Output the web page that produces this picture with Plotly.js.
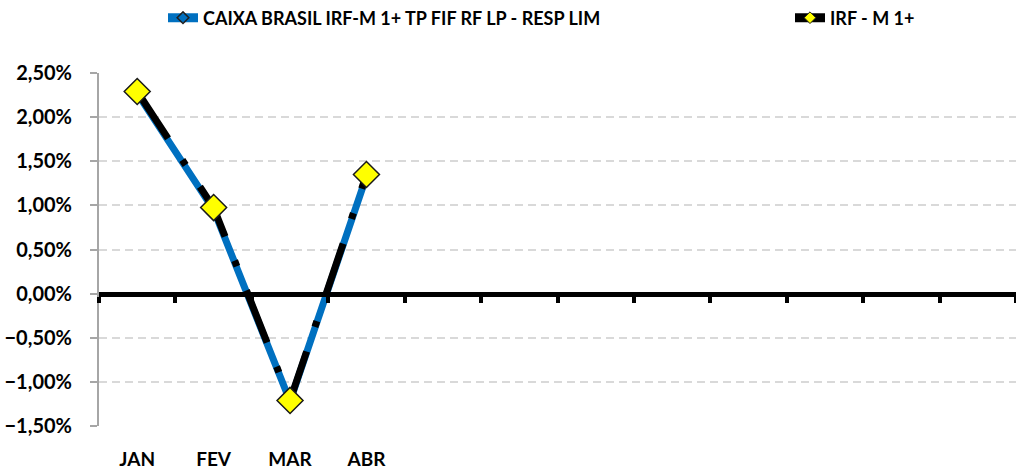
<!DOCTYPE html>
<html>
<head>
<meta charset="utf-8">
<script src="https://cdn.plot.ly/plotly-3.0.1.min.js"></script>
<style>html,body{margin:0;padding:0;background:#fff;}#chart{width:1016px;height:471px;}</style>
</head>
<body>
<div id="chart"></div>
<script>
const months = ['JAN','FEV','MAR','ABR','MAI','JUN','JUL','AGO','SET','OUT','NOV','DEZ'];
const monthLabels = ['JAN','FEV','MAR','ABR','','','','','','','',''];
const fundName = 'CAIXA BRASIL IRF-M 1+ TP FIF RF LP - RESP LIM';
const indexName = 'IRF - M 1+';
const fundValues = [0.0227, 0.0095, -0.0122, 0.0133];
const indexValues = [0.0229, 0.00975, -0.0121, 0.0135];

const font = 'Lato, "Open Sans", sans-serif';
const blue = '#0070c0';
const indexDash = '56px,26px,6px,26px';

const traces = [
  {
    x: months.slice(0, fundValues.length), y: fundValues, name: fundName,
    type: 'scatter', mode: 'lines+markers', showlegend: false,
    line: {color: blue, width: 7},
    marker: {symbol: 'diamond-open', size: 9, color: '#1f1f1f', line: {width: 1.5, color: '#1f1f1f'}},
    xaxis: 'x', yaxis: 'y'
  },
  {
    x: months.slice(0, indexValues.length), y: indexValues, name: indexName,
    type: 'scatter', mode: 'lines+markers', showlegend: false,
    line: {color: '#000000', width: 7, dash: indexDash},
    marker: {symbol: 'diamond', size: 20, color: '#ffff00', line: {width: 1.5, color: '#1a1a1a'}},
    xaxis: 'x', yaxis: 'y'
  },
  // legend entries
  {
    x: [null], y: [null], name: fundName, type: 'scatter', mode: 'lines+markers',
    legend: 'legend',
    line: {color: blue, width: 9},
    marker: {symbol: 'diamond-open', size: 9, color: '#1f1f1f', line: {width: 1.5, color: '#1f1f1f'}},
    xaxis: 'x', yaxis: 'y'
  },
  {
    x: [null], y: [null], name: indexName, type: 'scatter', mode: 'lines+markers',
    legend: 'legend2',
    line: {color: '#000000', width: 9},
    marker: {symbol: 'diamond', size: 9, color: '#ffff00', line: {width: 1, color: '#1a1a1a'}},
    xaxis: 'x', yaxis: 'y'
  },
  {
    x: months, y: months.map(() => null), showlegend: false, hoverinfo: 'skip',
    type: 'scatter', mode: 'lines', xaxis: 'x2', yaxis: 'y'
  }
];

const legendFont = {family: font, size: 18, color: '#000', weight: 'bold'};

const layout = {
  width: 1016, height: 471,
  margin: {l: 99, r: 0, t: 73, b: 45, autoexpand: false},
  paper_bgcolor: '#ffffff', plot_bgcolor: '#ffffff',
  separators: ',.',
  font: {family: font, color: '#000'},
  showlegend: true,
  legend: {
    orientation: 'h', xref: 'container', yref: 'container',
    x: 163 / 1016, xanchor: 'left', y: 1 - 18 / 471, yanchor: 'middle',
    font: legendFont
  },
  legend2: {
    orientation: 'h', xref: 'container', yref: 'container',
    x: 790 / 1016, xanchor: 'left', y: 1 - 18 / 471, yanchor: 'middle',
    font: legendFont
  },
  xaxis: {
    type: 'category', categoryorder: 'array', categoryarray: months,
    range: [-0.5, 11.5],
    tickmode: 'array', tickvals: months, ticktext: monthLabels,
    showgrid: false, zeroline: false, showline: false,
    ticks: 'outside', ticklen: 16, tickcolor: 'rgba(0,0,0,0)',
    tickfont: {family: font, size: 19, color: '#000', weight: 'bold'},
    fixedrange: true
  },
  xaxis2: {
    type: 'category', categoryorder: 'array', categoryarray: months,
    range: [-0.5, 11.5], overlaying: 'x', anchor: 'free', position: 0.375,
    showgrid: false, zeroline: false, showticklabels: false,
    showline: true, linecolor: '#000', linewidth: 5,
    ticks: 'outside', tickson: 'boundaries', ticklen: 6, tickwidth: 4, tickcolor: '#000'
  },
  yaxis: {
    range: [-1.5 / 100, 2.5 / 100], dtick: 0.005, tick0: 0,
    tickformat: '.2%',
    showgrid: true, gridcolor: '#d9d9d9', gridwidth: 2, griddash: '8px,5px',
    zeroline: false,
    showline: true, linecolor: '#a6a6a6', linewidth: 2,
    ticks: 'outside', ticklen: 7, tickwidth: 2, tickcolor: '#a6a6a6',
    ticklabelstandoff: 14,
    tickfont: {family: font, size: 20, color: '#000', weight: 'bold'},
    fixedrange: true
  }
};

Plotly.newPlot('chart', traces, layout, {staticPlot: true, displayModeBar: false});
</script>
</body>
</html>
